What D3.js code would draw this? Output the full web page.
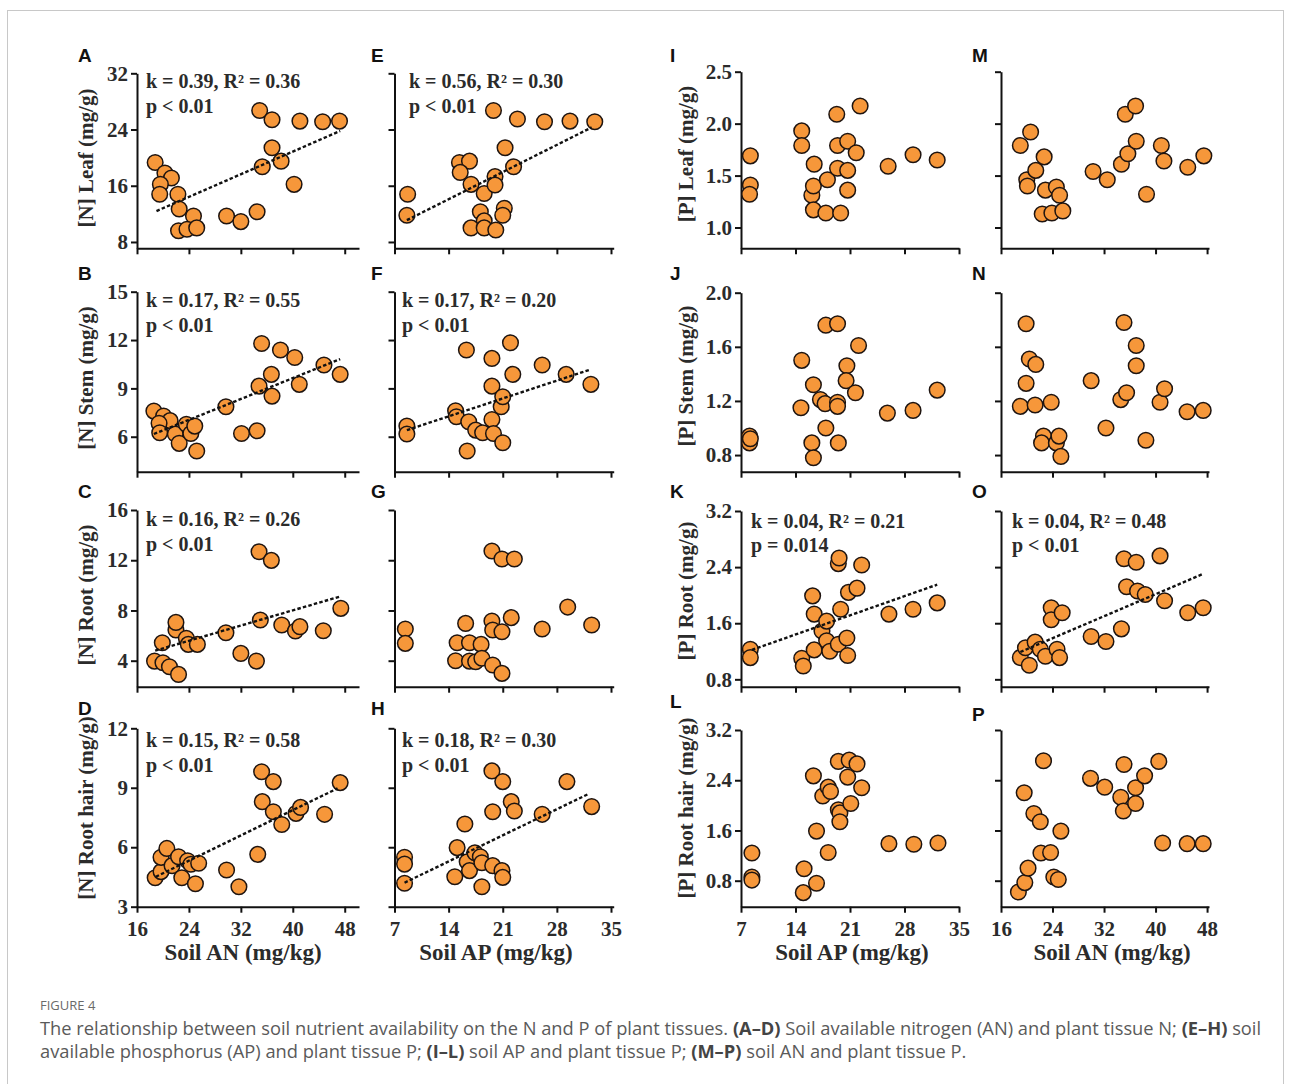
<!DOCTYPE html>
<html>
<head>
<meta charset="utf-8">
<script src="https://cdn.jsdelivr.net/npm/d3@7/dist/d3.min.js"></script>
<style>
  body { margin: 0; background: #fff; }
  .serif { font-family: "Liberation Serif", "Times New Roman", serif; font-weight: bold; fill: #2b2b2b; }
  .tag { font-family: "Liberation Sans", Arial, sans-serif; font-weight: bold; font-size: 19px; fill: #111; }
  .cap { font-family: "Open Sans", "Noto Sans", sans-serif; fill: #555; }
</style>
</head>
<body>
<svg id="fig" width="1291" height="1084"></svg>
<script>
// x ticks
const ticksAN = [16, 24, 32, 40, 48];
const ticksAP = [7, 14, 21, 28, 35];

// y ticks
const ticksLeafN = [8, 16, 24, 32];
const ticksStemN = [6, 9, 12, 15];
const ticksRootN = [4, 8, 12, 16];
const ticksHairN = [3, 6, 9, 12];
const ticksLeafP = [1.0, 1.5, 2.0, 2.5];
const ticksStemP = [0.8, 1.2, 1.6, 2.0];
const ticksRootP = [0.8, 1.6, 2.4, 3.2];
const ticksHairP = [0.8, 1.6, 2.4, 3.2];

// points [soil, tissue]
const ptsA = [[18.8,19.3],[20.3,17.8],[21.3,17.1],[19.6,16.2],[19.5,14.8],[22.3,14.8],[22.5,12.7],[24.7,11.7],[22.4,9.6],[23.7,9.8],[25.2,10.0],[29.8,11.7],[32.0,10.9],[34.5,12.3],[34.9,26.7],[36.8,25.4],[36.8,21.4],[38.2,19.5],[35.3,18.7],[40.2,16.2],[41.1,25.2],[44.6,25.1],[47.2,25.2]];
const ptsE = [[8.7,14.8],[8.6,11.8],[15.4,19.3],[16.7,19.5],[15.5,17.9],[16.9,16.2],[18.6,14.9],[20.0,17.3],[20.0,16.1],[18.1,12.3],[18.6,11.0],[16.9,10.0],[18.6,10.0],[20.1,9.7],[21.2,12.8],[21.0,11.8],[21.3,21.4],[22.4,18.7],[19.8,26.7],[22.9,25.5],[26.4,25.1],[29.7,25.2],[32.9,25.1]];
const ptsB = [[18.6,7.59],[20.1,7.28],[21.1,7.0],[19.4,6.83],[19.5,6.25],[21.9,6.17],[22.5,5.59],[23.6,6.77],[24.3,6.2],[24.9,6.66],[25.2,5.11],[29.7,7.86],[32.1,6.2],[34.5,6.37],[35.2,11.79],[38.1,11.38],[36.7,9.87],[34.8,9.14],[36.8,8.52],[40.3,10.92],[41.0,9.25],[44.8,10.45],[47.3,9.87]];
const ptsF = [[8.6,6.66],[8.6,6.17],[14.9,7.61],[15.0,7.24],[16.3,11.38],[16.6,6.93],[16.4,5.11],[17.5,6.41],[18.4,6.25],[19.6,7.07],[19.8,6.2],[19.6,9.14],[19.6,10.86],[20.8,7.86],[21.0,8.48],[21.0,5.63],[22.0,11.83],[22.3,9.87],[26.1,10.45],[29.2,9.87],[32.4,9.25]];
const ptsC = [[18.7,3.97],[19.9,5.43],[20.0,3.84],[21.0,3.52],[22.4,2.91],[22.0,6.44],[22.0,7.05],[23.6,5.78],[23.9,5.3],[25.3,5.3],[29.7,6.23],[32.0,4.58],[34.4,3.97],[34.8,12.68],[36.7,11.99],[35.0,7.24],[38.3,6.84],[40.4,6.36],[41.1,6.71],[44.7,6.39],[47.4,8.17]];
const ptsG = [[8.4,6.52],[8.4,5.38],[15.1,5.43],[14.9,4.0],[16.2,6.97],[16.7,5.43],[16.7,3.97],[17.5,3.92],[18.2,5.3],[18.3,4.19],[19.6,7.16],[19.7,6.44],[19.7,3.66],[20.9,6.31],[20.9,2.99],[19.6,12.73],[20.9,12.1],[22.5,12.1],[22.1,7.43],[26.1,6.52],[29.4,8.27],[32.5,6.84]];
const ptsD = [[18.8,4.46],[19.7,4.77],[19.7,5.49],[20.6,5.94],[21.4,5.07],[22.4,5.52],[22.9,4.46],[23.8,5.32],[24.3,5.14],[25.0,4.16],[25.5,5.19],[29.8,4.85],[31.7,4.01],[34.6,5.64],[35.2,9.81],[37.0,9.31],[35.3,8.30],[37.0,7.79],[38.3,7.15],[40.5,7.71],[41.2,8.01],[44.9,7.66],[47.3,9.26]];
const ptsH = [[8.3,5.49],[8.3,5.15],[8.3,4.18],[14.8,4.51],[15.1,5.98],[16.1,7.17],[16.4,5.27],[16.7,4.82],[17.4,5.72],[18.1,5.52],[18.3,4.01],[18.3,5.22],[19.6,9.85],[19.7,7.79],[19.7,5.07],[21.0,9.31],[20.9,4.82],[21.0,4.48],[22.1,8.30],[22.5,7.83],[26.1,7.66],[29.3,9.31],[32.5,8.05]];
const ptsI = [[8.2,1.69],[8.2,1.41],[8.1,1.32],[14.8,1.93],[14.8,1.79],[16.4,1.61],[16.1,1.31],[16.3,1.40],[16.3,1.17],[17.9,1.14],[18.1,1.46],[19.3,2.09],[19.4,1.79],[19.4,1.57],[19.8,1.14],[20.7,1.83],[20.7,1.55],[20.7,1.36],[21.8,1.72],[22.3,2.17],[25.9,1.59],[29.1,1.70],[32.2,1.65]];
const ptsM = [[19.0,1.79],[20.6,1.92],[20.0,1.46],[20.1,1.40],[21.4,1.55],[22.7,1.68],[22.9,1.36],[22.4,1.13],[23.9,1.14],[24.6,1.39],[25.1,1.31],[25.6,1.16],[30.3,1.54],[32.5,1.46],[34.7,1.61],[35.7,1.71],[35.3,2.09],[36.9,2.17],[37.0,1.83],[38.6,1.32],[40.9,1.79],[41.3,1.64],[45.0,1.58],[47.5,1.69]];
const ptsJ = [[8.1,0.94],[8.1,0.89],[8.2,0.92],[14.8,1.50],[14.7,1.15],[16.3,1.32],[16.1,0.89],[16.3,0.78],[17.2,1.21],[17.8,1.18],[17.9,1.76],[17.9,1.0],[19.4,1.77],[19.4,1.19],[19.4,1.16],[19.5,0.89],[20.6,1.46],[20.5,1.35],[21.7,1.26],[22.1,1.61],[25.8,1.11],[29.1,1.13],[32.2,1.28]];
const ptsN = [[19.0,1.16],[19.9,1.77],[20.4,1.51],[19.9,1.33],[21.3,1.17],[21.4,1.47],[22.6,0.94],[22.3,0.89],[23.8,1.19],[24.6,0.89],[25.0,0.94],[25.3,0.79],[30.0,1.35],[32.3,1.0],[34.6,1.21],[35.5,1.26],[35.1,1.78],[37.0,1.61],[37.0,1.46],[38.5,0.91],[40.7,1.19],[41.4,1.29],[44.9,1.12],[47.4,1.13]];
const ptsK = [[8.2,1.23],[8.2,1.11],[14.8,1.10],[15.0,0.99],[16.2,1.99],[16.4,1.73],[16.4,1.22],[17.4,1.49],[18.0,1.63],[18.0,1.35],[18.4,1.20],[19.5,1.30],[19.5,2.45],[19.6,2.53],[19.8,1.80],[20.6,1.39],[20.7,1.14],[20.8,2.04],[21.9,2.10],[22.5,2.43],[26.0,1.73],[29.1,1.80],[32.2,1.89]];
const ptsO = [[19.0,1.11],[19.8,1.25],[20.4,1.0],[21.3,1.33],[22.1,1.23],[22.9,1.13],[23.8,1.82],[23.8,1.65],[24.7,1.23],[25.1,1.11],[25.5,1.75],[30.0,1.41],[32.3,1.34],[34.7,1.52],[35.1,2.52],[35.5,2.12],[37.0,2.47],[37.2,2.06],[38.4,2.01],[40.7,2.56],[41.4,1.92],[45.0,1.75],[47.4,1.82]];
const ptsL = [[8.4,1.24],[8.4,0.86],[8.4,0.81],[15.1,0.99],[15.0,0.61],[16.7,0.76],[16.3,2.47],[16.7,1.59],[17.5,2.15],[18.2,2.29],[18.5,2.22],[18.2,1.25],[19.5,2.70],[19.5,1.93],[19.7,1.88],[19.7,1.74],[20.9,2.72],[20.7,2.45],[21.1,2.03],[21.9,2.66],[22.5,2.28],[26.0,1.39],[29.2,1.38],[32.3,1.40]];
const ptsP = [[18.7,0.62],[19.7,0.77],[20.2,1.0],[19.6,2.20],[21.1,1.87],[22.1,1.74],[22.6,2.71],[22.2,1.24],[23.7,1.25],[24.2,0.86],[24.9,0.82],[25.3,1.59],[29.9,2.43],[32.1,2.29],[34.6,2.13],[35.0,1.91],[35.1,2.65],[36.9,2.28],[36.9,2.03],[38.3,2.47],[40.5,2.70],[41.1,1.40],[44.9,1.39],[47.4,1.39]];

// fitted lines [[x0, y0], [x1, y1]]
const fitA = [[19.0,12.4],[47.3,23.8]];
const fitE = [[8.6,11.1],[32.5,24.3]];
const fitB = [[18.6,6.17],[47.3,10.82]];
const fitF = [[8.6,6.41],[32.4,10.18]];
const fitC = [[18.8,4.80],[47.2,9.10]];
const fitD = [[18.9,4.51],[46.9,8.97]];
const fitH = [[8.3,4.21],[32.1,8.69]];
const fitK = [[8.4,1.22],[32.2,2.15]];
const fitO = [[19.0,1.19],[47.3,2.30]];

// statistics text
const statsA = ["k = 0.39, R² = 0.36", "p < 0.01"];
const statsE = ["k = 0.56, R² = 0.30", "p < 0.01"];
const statsB = ["k = 0.17, R² = 0.55", "p < 0.01"];
const statsF = ["k = 0.17, R² = 0.20", "p < 0.01"];
const statsC = ["k = 0.16, R² = 0.26", "p < 0.01"];
const statsD = ["k = 0.15, R² = 0.58", "p < 0.01"];
const statsH = ["k = 0.18, R² = 0.30", "p < 0.01"];
const statsK = ["k = 0.04, R² = 0.21", "p = 0.014"];
const statsO = ["k = 0.04, R² = 0.48", "p < 0.01"];

const yTitlesN = ["[N] Leaf (mg/g)", "[N] Stem (mg/g)", "[N] Root (mg/g)", "[N] Root hair (mg/g)"];
const yTitlesP = ["[P] Leaf (mg/g)", "[P] Stem (mg/g)", "[P] Root (mg/g)", "[P] Root hair (mg/g)"];
const xTitles = ["Soil AN (mg/kg)", "Soil AP (mg/kg)", "Soil AP (mg/kg)", "Soil AN (mg/kg)"];

// layout
const cols = [
  { x0: 137,   x1: 359,   dom: [16, 50.2], ticks: ticksAN, tagX: 78,  titleX: 93,  titleCX: 243 },
  { x0: 394.5, x1: 613.7, dom: [7, 35.35], ticks: ticksAP, tagX: 371, titleX: null, titleCX: 496 },
  { x0: 741,   x1: 959,   dom: [7, 35],    ticks: ticksAP, tagX: 670, titleX: 693, titleCX: 852 },
  { x0: 1001,  x1: 1209,  dom: [16, 48.3], ticks: ticksAN, tagX: 972, titleX: null, titleCX: 1112 }
];
const rowsN = [
  { bot: 248.3, top: 73.3,  dom: [7.1, 32],  ticks: ticksLeafN, tcy: 158 },
  { bot: 471.7, top: 291.7, dom: [3.83, 15], ticks: ticksStemN, tcy: 378 },
  { bot: 686.7, top: 510,   dom: [1.93, 16], ticks: ticksRootN, tcy: 595 },
  { bot: 906.7, top: 728.3, dom: [3, 12],    ticks: ticksHairN, tcy: 808 }
];
const rowsP = [
  { bot: 248.3, top: 71.7,  dom: [0.8, 2.5],   ticks: ticksLeafP, tcy: 154 },
  { bot: 471.7, top: 292.7, dom: [0.677, 2.0], ticks: ticksStemP, tcy: 376 },
  { bot: 686.7, top: 511,   dom: [0.695, 3.2], ticks: ticksRootP, tcy: 591 },
  { bot: 906.7, top: 730,   dom: [0.386, 3.2], ticks: ticksHairP, tcy: 808 }
];

const panels = [
  { id: "A", col: 0, row: 0, pts: ptsA, fit: fitA, stats: statsA, sx: 146, sy: [88, 113], tagY: 62 },
  { id: "B", col: 0, row: 1, pts: ptsB, fit: fitB, stats: statsB, sx: 146, sy: [307, 332], tagY: 280 },
  { id: "C", col: 0, row: 2, pts: ptsC, fit: fitC, stats: statsC, sx: 146, sy: [526, 551], tagY: 498 },
  { id: "D", col: 0, row: 3, pts: ptsD, fit: fitD, stats: statsD, sx: 146, sy: [747, 772], tagY: 715 },
  { id: "E", col: 1, row: 0, pts: ptsE, fit: fitE, stats: statsE, sx: 409, sy: [88, 113], tagY: 62 },
  { id: "F", col: 1, row: 1, pts: ptsF, fit: fitF, stats: statsF, sx: 402, sy: [307, 332], tagY: 280 },
  { id: "G", col: 1, row: 2, pts: ptsG, tagY: 498 },
  { id: "H", col: 1, row: 3, pts: ptsH, fit: fitH, stats: statsH, sx: 402, sy: [747, 772], tagY: 715 },
  { id: "I", col: 2, row: 0, pts: ptsI, tagY: 62 },
  { id: "J", col: 2, row: 1, pts: ptsJ, tagY: 280 },
  { id: "K", col: 2, row: 2, pts: ptsK, fit: fitK, stats: statsK, sx: 751, sy: [528, 552], tagY: 498 },
  { id: "L", col: 2, row: 3, pts: ptsL, tagY: 708 },
  { id: "M", col: 3, row: 0, pts: ptsM, tagY: 62 },
  { id: "N", col: 3, row: 1, pts: ptsN, tagY: 280 },
  { id: "O", col: 3, row: 2, pts: ptsO, fit: fitO, stats: statsO, sx: 1012, sy: [528, 552], tagY: 498 },
  { id: "P", col: 3, row: 3, pts: ptsP, tagY: 721 }
];

const svg = d3.select("#fig");

svg.append("rect")
    .attr("x", 7.5).attr("y", 10.5)
    .attr("width", 1276).attr("height", 1100)
    .attr("fill", "none")
    .attr("stroke", "#c8c8c8");

panels.forEach(p => {
    const c = cols[p.col];
    const isP = p.col >= 2;
    const r = (isP ? rowsP : rowsN)[p.row];
    const x = d3.scaleLinear().domain(c.dom).range([c.x0, c.x1]);
    const y = d3.scaleLinear().domain(r.dom).range([r.bot, r.top]);
    const g = svg.append("g");

    const yFmt = (p.col === 0 || p.col === 2) ? (isP ? d3.format(".1f") : d3.format("d")) : () => "";
    const yAxis = g.append("g")
        .attr("transform", `translate(${c.x0},0)`)
        .call(d3.axisLeft(y).tickValues(r.ticks).tickSize(6).tickSizeOuter(0).tickPadding(3).tickFormat(yFmt));

    const xFmt = p.row === 3 ? d3.format("d") : () => "";
    const xAxis = g.append("g")
        .attr("transform", `translate(0,${r.bot})`)
        .call(d3.axisBottom(x).tickValues(c.ticks).tickSize(6).tickSizeOuter(0).tickPadding(8).tickFormat(xFmt));

    [yAxis, xAxis].forEach(a => {
        a.select(".domain").attr("stroke", "#111").attr("stroke-width", 2);
        a.selectAll(".tick line").attr("stroke", "#111").attr("stroke-width", 2);
        a.selectAll("text")
            .attr("class", "serif")
            .attr("fill", "#2b2b2b")
            .style("font-size", "21px");
    });

    // points
    g.selectAll("circle")
        .data(p.pts)
        .enter()
        .append("circle")
        .attr("cx", d => x(d[0]))
        .attr("cy", d => y(d[1]))
        .attr("r", 7.8)
        .attr("fill", "#F6973A")
        .attr("stroke", "#1e1410")
        .attr("stroke-width", 1.5);

    // fitted line
    if (p.fit) {
        g.append("path")
            .attr("d", d3.line().x(d => x(d[0])).y(d => y(d[1]))(p.fit))
            .attr("fill", "none")
            .attr("stroke", "#111")
            .attr("stroke-width", 2.4)
            .attr("stroke-dasharray", "3.5,2.2");
    }

    if (p.stats) {
        p.stats.forEach((s, i) => {
            g.append("text")
                .attr("class", "serif")
                .attr("x", p.sx)
                .attr("y", p.sy[i])
                .style("font-size", "20px")
                .text(s);
        });
    }

    // panel tag
    svg.append("text")
        .attr("class", "tag")
        .attr("x", c.tagX)
        .attr("y", p.tagY)
        .text(p.id);

    // y title
    if (c.titleX !== null) {
        svg.append("text")
            .attr("class", "serif")
            .attr("transform", `translate(${c.titleX},${r.tcy}) rotate(-90)`)
            .attr("text-anchor", "middle")
            .style("font-size", "21px")
            .text((isP ? yTitlesP : yTitlesN)[p.row]);
    }

    // x title
    if (p.row === 3) {
        svg.append("text")
            .attr("class", "serif")
            .attr("x", c.titleCX)
            .attr("y", 960)
            .attr("text-anchor", "middle")
            .style("font-size", "23px")
            .text(xTitles[p.col]);
    }
});

// caption
svg.append("text")
    .attr("class", "cap")
    .attr("x", 40).attr("y", 1010)
    .style("font-size", "13px")
    .style("fill", "#6a6a6a")
    .text("FIGURE 4");

const capLines = [
    [["The relationship between soil nutrient availability on the N and P of plant tissues. ", false], ["(A–D)", true],
     [" Soil available nitrogen (AN) and plant tissue N; ", false], ["(E–H)", true], [" soil", false]],
    [["available phosphorus (AP) and plant tissue P; ", false], ["(I–L)", true],
     [" soil AP and plant tissue P; ", false], ["(M–P)", true], [" soil AN and plant tissue P.", false]]
];
const capTexts = capLines.map((line, i) => {
    const t = svg.append("text")
        .attr("class", "cap")
        .attr("x", 40)
        .attr("y", 1035 + i * 23)
        .style("font-size", "16px");
    line.forEach(([s, b]) => {
        t.append("tspan")
            .style("font-weight", b ? "bold" : "normal")
            .style("fill", b ? "#444" : "#5a5a5a")
            .text(s);
    });
    return t;
});
// fit first caption line to the figure width
const w0 = capTexts[0].node().getComputedTextLength();
const fs = 16 * 1222 / w0;
capTexts.forEach(t => t.style("font-size", fs + "px"));
</script>
</body>
</html>
